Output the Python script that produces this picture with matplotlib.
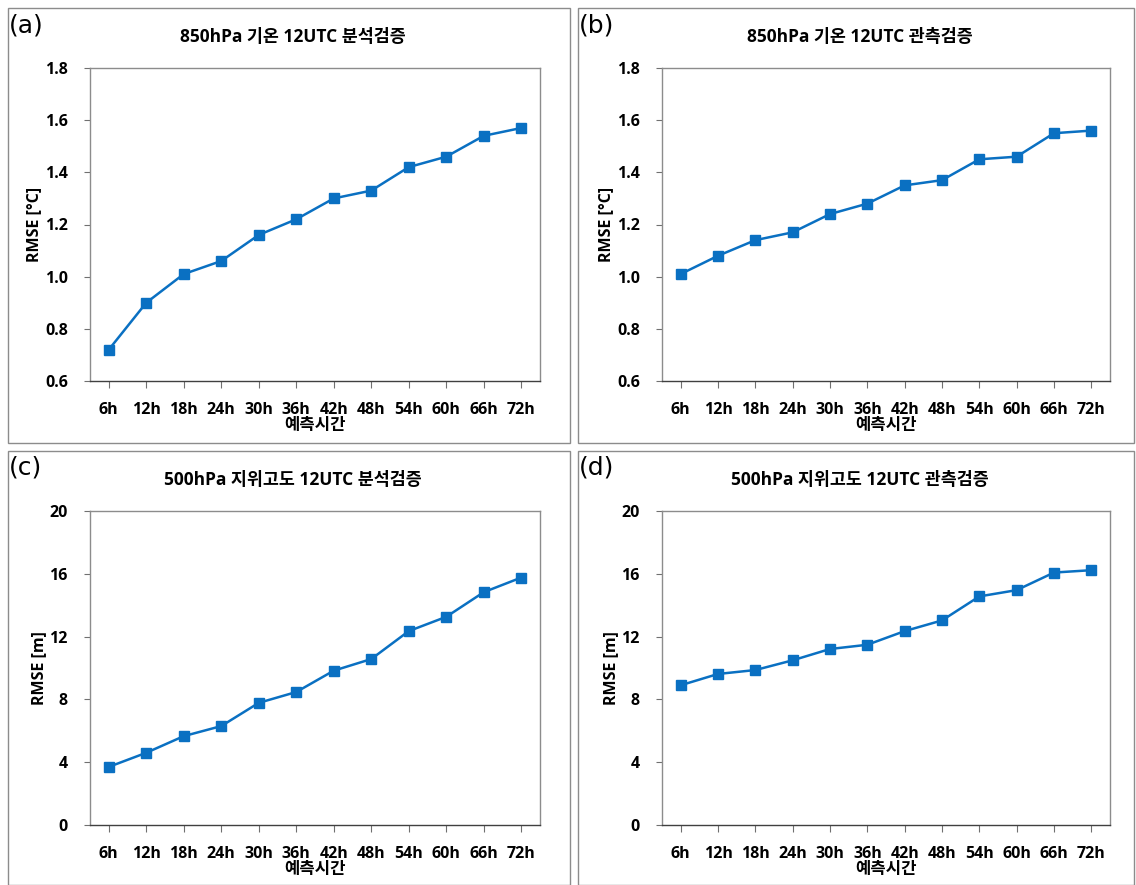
import numpy as np
import matplotlib
matplotlib.use("Agg")
import matplotlib.pyplot as plt
from matplotlib.patches import Rectangle

plt.rcParams['font.family'] = ['Open Sans', 'Noto Sans CJK KR', 'DejaVu Sans']

hours = ['6h', '12h', '18h', '24h', '30h', '36h', '42h', '48h', '54h', '60h', '66h', '72h']

t850_ana = [0.72, 0.90, 1.01, 1.06, 1.16, 1.22, 1.30, 1.33, 1.42, 1.46, 1.54, 1.57]
t850_obs = [1.01, 1.08, 1.14, 1.17, 1.24, 1.28, 1.35, 1.37, 1.45, 1.46, 1.55, 1.56]
z500_ana = [3.7, 4.6, 5.66, 6.3, 7.78, 8.47, 9.83, 10.57, 12.35, 13.26, 14.83, 15.76]
z500_obs = [8.9, 9.62, 9.87, 10.49, 11.21, 11.48, 12.35, 13.03, 14.56, 14.96, 16.08, 16.23]

titles = ['850hPa 기온 12UTC 분석검증', '850hPa 기온 12UTC 관측검증',
          '500hPa 지위고도 12UTC 분석검증', '500hPa 지위고도 12UTC 관측검증']
tags = ['(a)', '(b)', '(c)', '(d)']
ylabels = ['RMSE [°C]', 'RMSE [°C]', 'RMSE [m]', 'RMSE [m]']
series = [t850_ana, t850_obs, z500_ana, z500_obs]
yticks_t = [0.6, 0.8, 1.0, 1.2, 1.4, 1.6, 1.8]
yticks_z = [0, 4, 8, 12, 16, 20]

W, H = 1136, 885
fig = plt.figure(figsize=(W / 100, H / 100), dpi=100)

# panel frames (pixels: left, top, right, bottom)
frames = [(8, 8, 570, 443), (578, 8, 1134, 443), (8, 451, 570, 885), (578, 451, 1134, 885)]
axes_px = [(90, 68, 540, 381), (662, 68, 1110, 381), (90, 511, 540, 825), (662, 511, 1110, 825)]

blue = '#0a70c2'
x = np.arange(len(hours))

for i in range(4):
    l, t, r, b = frames[i]
    fig.patches.append(Rectangle((l / W, 1 - b / H), (r - l) / W, (b - t) / H,
                                 transform=fig.transFigure, fill=False,
                                 edgecolor='#8c8c8c', linewidth=1.0))
    al, at, ar, ab = axes_px[i]
    ax = fig.add_axes([al / W, 1 - ab / H, (ar - al) / W, (ab - at) / H])
    ax.plot(x, series[i], color=blue, linewidth=1.8, marker='s', markersize=7.5)
    ax.set_xlim(-0.5, len(hours) - 0.5)
    if i < 2:
        ax.set_ylim(0.6, 1.8)
        ax.set_yticks(yticks_t)
        ax.set_yticklabels(['%.1f' % v for v in yticks_t])
    else:
        ax.set_ylim(0, 20)
        ax.set_yticks(yticks_z)
    ax.set_xticks(x)
    ax.set_xticklabels(hours)
    for s in ax.spines.values():
        s.set_color('#8c8c8c')
        s.set_linewidth(1.0)
    ax.spines['bottom'].set_color('#404040')
    ax.tick_params(axis='x', length=5, width=0.8, color='#707070', pad=10,
                   labelsize=11.5, direction='out')
    ax.tick_params(axis='y', length=4, width=0.8, color='#707070', pad=12,
                   labelsize=11.5, direction='out')
    for lab in ax.get_xticklabels() + ax.get_yticklabels():
        lab.set_fontweight('bold')
    ax.set_xlabel('예측시간', fontsize=12, fontweight='bold', labelpad=-1)
    ax.set_ylabel(ylabels[i], fontsize=11.5, fontweight='bold', labelpad=2)
    cx = (l + r) / 2 / W
    fig.text(cx + 0.003, 1 - (t + 29) / H, titles[i], ha='center', va='center',
             fontsize=12.5, fontweight='bold')
    fig.text((l + 1) / W, 1 - (t + 17) / H, tags[i], ha='left', va='center',
             fontsize=18, family=['DejaVu Sans'])

fig.savefig('out.png', dpi=100)
